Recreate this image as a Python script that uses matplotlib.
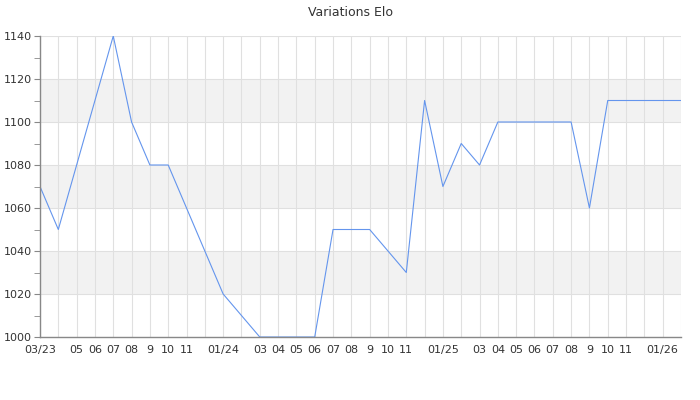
import matplotlib
matplotlib.use('Agg')
import matplotlib.pyplot as plt
from matplotlib.ticker import MultipleLocator

# monthly elo values, 03/2023 -> 02/2026
elo = [1070, 1050, 1080, 1110, 1140, 1100, 1080, 1080, 1060, 1040,
       1020, 1010, 1000, 1000, 1000, 1000, 1050, 1050, 1050, 1040,
       1030, 1110, 1070, 1090, 1080, 1100, 1100, 1100, 1100, 1100,
       1060, 1110, 1110, 1110, 1110, 1110]
month_labels = ['03/23', '', '05', '06', '07', '08', '9', '10', '11', '',
                '01/24', '', '03', '04', '05', '06', '07', '08', '9', '10',
                '11', '', '01/25', '', '03', '04', '05', '06', '07', '08',
                '9', '10', '11', '', '01/26', '']
y_min, y_max, y_step = 1000, 1140, 20

months = list(range(len(elo)))

fig = plt.figure(figsize=(7, 4), dpi=100)
ax = fig.add_axes([40/700, 63/400, 641/700, 301/400])

# alternating background bands
for i, lo in enumerate(range(y_min, y_max, y_step)):
    if i % 2 == 1:
        ax.axhspan(lo, lo + y_step, color='#f2f2f2', zorder=0, lw=0)

# line sits under the spines so the flat part at 1000 is hidden
ax.plot(months, elo, color='#6495ed', lw=0.8, zorder=2)

ax.set_xlim(0, len(elo) - 1)
ax.set_ylim(y_min, y_max)
ax.set_xticks(months)
ax.set_xticklabels(month_labels)
ax.yaxis.set_major_locator(MultipleLocator(y_step))
ax.yaxis.set_minor_locator(MultipleLocator(y_step / 2))

ax.grid(True, which='major', color='#e0e0e0', lw=0.8, zorder=1)
ax.set_axisbelow(True)

ax.tick_params(axis='x', length=0, pad=6, labelsize=8, labelcolor='#333333')
ax.tick_params(axis='y', which='both', length=4, color='#888888',
               labelsize=8, labelcolor='#333333', pad=2)

for side in ['top', 'right']:
    ax.spines[side].set_visible(False)
for side in ['left', 'bottom']:
    ax.spines[side].set_color('#888888')
    ax.spines[side].set_linewidth(1)
    ax.spines[side].set_zorder(3)

fig.text(0.5, 0.97, 'Variations Elo', ha='center', va='center',
         fontsize=9, color='#333333')

fig.savefig('out.png', dpi=100)
